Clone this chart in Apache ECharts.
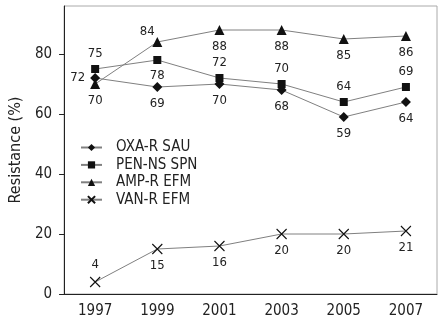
<!DOCTYPE html>
<html>
<head>
<meta charset="utf-8">
<script src="https://cdn.jsdelivr.net/npm/echarts@6/dist/echarts.min.js"></script>
<style>
  html, body { margin: 0; padding: 0; background: #fff; }
  #chart { width: 445px; height: 324px; }
</style>
</head>
<body>
<div id="chart"></div>
<script>
const years = ['1997', '1999', '2001', '2003', '2005', '2007'];
const oxaRSau = [72, 69, 70, 68, 59, 64];
const penNsSpn = [75, 78, 72, 70, 64, 69];
const ampREfm = [70, 84, 88, 88, 85, 86];
const vanREfm = [4, 15, 16, 20, 20, 21];

// where each value label sits relative to its marker
const labelPos = {
    oxa: ['left', 'bottom', 'bottom', 'bottom', 'bottom', 'bottom'],
    pen: ['top', 'bottom', 'top', 'top', 'top', 'top'],
    amp: ['bottom', 'top', 'bottom', 'bottom', 'bottom', 'bottom'],
    van: ['top', 'bottom', 'bottom', 'bottom', 'bottom', 'bottom']
};

const font = "'Liberation Sans Narrow', 'DejaVu Sans Condensed', sans-serif";
const crossPath = 'path://M0,0L10,10M10,0L0,10';

function withLabels(values, positions, shifted) {
    return values.map((v, i) => {
        const item = { value: v, label: { position: positions[i] } };
        if (shifted === i) {
            item.label.offset = [-10, 6];
        }
        return item;
    });
}

function makeSeries(name, values, positions, symbol, size, shifted) {
    const isCross = symbol === crossPath;
    return {
        name: name,
        type: 'line',
        data: withLabels(values, positions, shifted),
        symbol: symbol,
        symbolSize: size,
        lineStyle: { color: '#808080', width: 1 },
        itemStyle: isCross
            ? { color: 'rgba(0,0,0,0)', borderColor: '#111', borderWidth: 1.1 }
            : { color: '#111', borderWidth: 0 },
        label: {
            show: true,
            fontFamily: font,
            fontSize: 13,
            color: '#222',
            distance: 5
        },
        emphasis: { disabled: true },
        animation: false
    };
}

const chart = echarts.init(document.getElementById('chart'), null, { renderer: 'canvas' });
chart.setOption({
    backgroundColor: '#fff',
    textStyle: { fontFamily: font },
    grid: {
        left: 58, right: 8, top: 6, bottom: 30,
        show: true, borderColor: '#aaa', borderWidth: 1
    },
    legend: {
        orient: 'vertical',
        left: 75,
        top: 135,
        itemWidth: 21,
        itemHeight: 9,
        itemGap: 2.4,
        textStyle: { fontFamily: font, fontSize: 15, color: '#222', lineHeight: 15, padding: [0, 0, 0, 9] },
        data: ['OXA-R SAU', 'PEN-NS SPN', 'AMP-R EFM', 'VAN-R EFM']
    },
    xAxis: {
        type: 'category',
        data: years,
        boundaryGap: true,
        axisLine: { lineStyle: { color: '#222', width: 1 } },
        axisTick: { length: 5, lineStyle: { color: '#222' } },
        axisLabel: { fontFamily: font, fontSize: 15, color: '#222', margin: 10 }
    },
    yAxis: {
        type: 'value',
        min: 0,
        max: 96,
        interval: 20,
        name: 'Resistance (%)',
        nameLocation: 'middle',
        nameGap: 36,
        nameTextStyle: { fontFamily: font, fontSize: 16, color: '#222' },
        axisLine: { show: true, lineStyle: { color: '#222', width: 1 } },
        axisTick: { show: true, length: 5, lineStyle: { color: '#222' } },
        axisLabel: { fontFamily: font, fontSize: 15, color: '#222', margin: 12, showMaxLabel: false },
        splitLine: { show: false }
    },
    series: [
        makeSeries('OXA-R SAU', oxaRSau, labelPos.oxa, 'diamond', 10),
        makeSeries('PEN-NS SPN', penNsSpn, labelPos.pen, 'rect', 8),
        makeSeries('AMP-R EFM', ampREfm, labelPos.amp, 'triangle', 10, 1),
        makeSeries('VAN-R EFM', vanREfm, labelPos.van, crossPath, 10)
    ]
});
</script>
</body>
</html>
